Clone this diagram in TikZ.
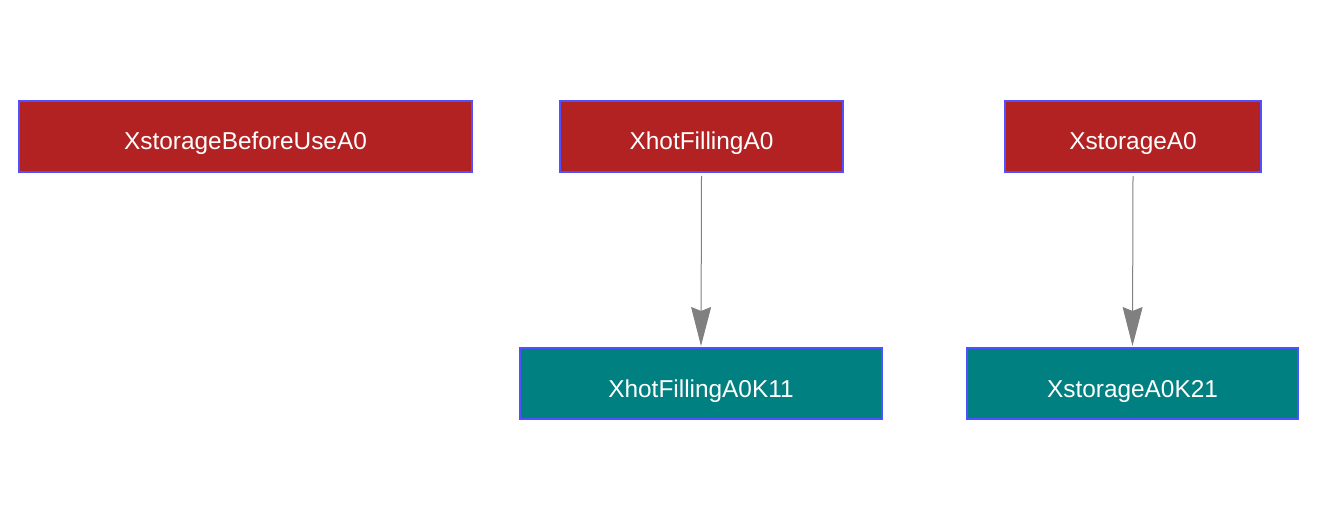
\documentclass[tikz,border=0pt]{standalone}
\usepackage{fontspec}
\setmainfont{Liberation Sans}
\usetikzlibrary{arrows.meta}
\definecolor{redfill}{HTML}{B22222}
\definecolor{tealfill}{HTML}{008080}
\definecolor{bordblue}{HTML}{5050FF}
\definecolor{arrgray}{HTML}{808080}
\begin{document}
\begin{tikzpicture}[x=1pt,y=-1pt,
  box/.style={draw=bordblue,line width=2pt,inner sep=0pt,text=white,text height=27pt,text depth=0pt,font=\fontsize{24.4}{28}\selectfont},
  redbox/.style={box,fill=redfill},
  tealbox/.style={box,fill=tealfill},
  conn/.style={draw=arrgray,line width=1pt,-{Stealth[length=39pt,width=20pt,inset=4pt,fill=arrgray]}}]
\useasboundingbox (0,0) rectangle (1317,521);
\node[redbox,minimum width=453pt,minimum height=71pt] (a) at (245.5,136.5) {XstorageBeforeUseA0};
\node[redbox,minimum width=283pt,minimum height=71pt] (b) at (701.5,136.5) {XhotFillingA0};
\node[redbox,minimum width=256pt,minimum height=71pt] (c) at (1133,136.5) {XstorageA0};
\node[tealbox,minimum width=362pt,minimum height=71pt] (d) at (701,383.5) {XhotFillingA0K11};
\node[tealbox,minimum width=331pt,minimum height=71pt] (e) at (1132.5,383.5) {XstorageA0K21};
\draw[conn] ([yshift=-3pt]b.south) -- ([yshift=1pt]d.north);
\draw[conn] ([yshift=-3pt]c.south) -- ([yshift=1pt]e.north);
\end{tikzpicture}
\end{document}
